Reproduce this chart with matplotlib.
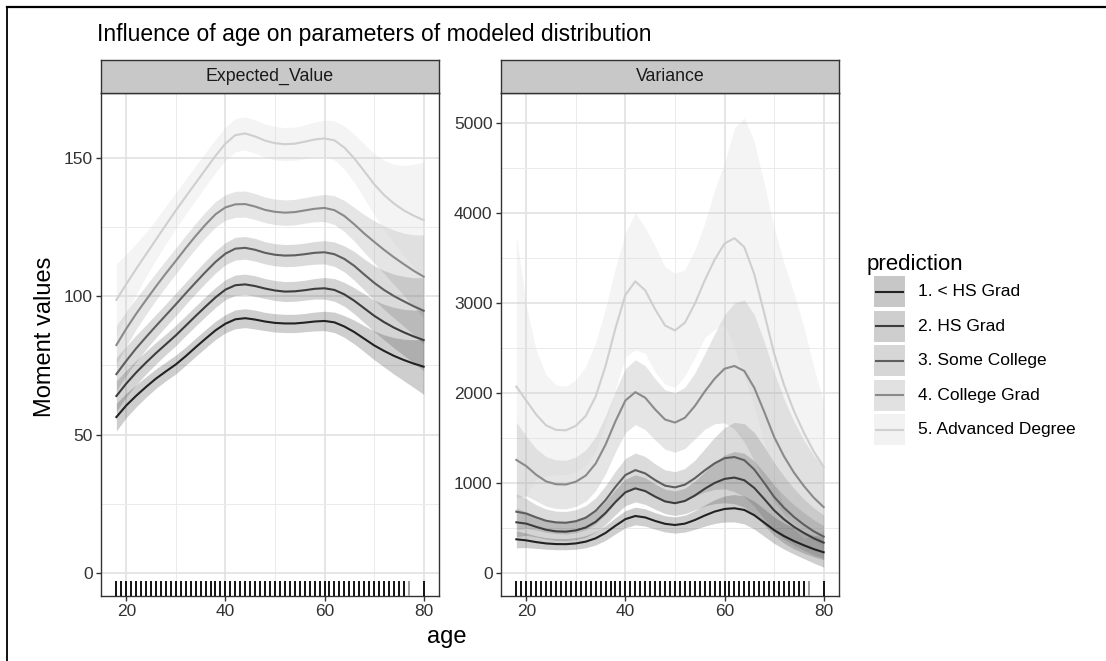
import numpy as np
import matplotlib
matplotlib.use("Agg")
from matplotlib import pyplot as plt
from matplotlib.patches import Rectangle
from matplotlib.lines import Line2D

plt.rcParams['font.family'] = ['Liberation Sans', 'DejaVu Sans']

W, H = 1106, 661

# ---- data ----
ages = [18, 20, 22, 24, 26, 28, 30, 32, 34, 36, 38, 40, 42, 44, 46, 48,
        50, 52, 54, 56, 58, 60, 62, 64, 66, 68, 70, 72, 74, 76, 78, 80]
groups = ["1. < HS Grad", "2. HS Grad", "3. Some College", "4. College Grad", "5. Advanced Degree"]

# Expected_Value panel: fitted curves
ev_hs_less = [56.3, 60.5, 64.0, 67.2, 70.2, 72.8, 75.3, 78.3, 81.5, 84.6, 87.6, 90.0, 91.6, 92.0, 91.5, 90.8,
              90.3, 90.1, 90.1, 90.4, 90.8, 91.0, 90.5, 89.0, 87.0, 84.6, 82.2, 80.2, 78.4, 76.9, 75.6, 74.5]
ev_hs = [63.9, 68.4, 72.4, 76.0, 79.4, 82.6, 85.8, 89.3, 92.8, 96.2, 99.5, 102.3, 103.9, 104.2, 103.6, 102.7,
         102.0, 101.6, 101.7, 102.1, 102.6, 102.8, 102.2, 100.6, 98.3, 95.6, 92.9, 90.6, 88.6, 86.9, 85.4, 84.1]
ev_some = [71.8, 76.6, 81.1, 85.2, 89.2, 93.1, 97.0, 101.0, 104.9, 108.7, 112.3, 115.3, 117.1, 117.4, 116.7, 115.6,
           114.9, 114.6, 114.7, 115.1, 115.6, 115.8, 115.1, 113.4, 110.9, 107.8, 104.8, 102.2, 100.0, 98.1, 96.3, 94.7]
ev_college = [82.3, 88.2, 93.6, 98.6, 103.5, 108.2, 112.7, 117.3, 121.7, 125.8, 129.5, 132.0, 133.1, 133.2, 132.3, 131.1,
              130.4, 130.1, 130.3, 130.9, 131.5, 131.8, 131.0, 128.9, 125.9, 122.6, 119.6, 116.7, 114.0, 111.5, 109.1, 107.0]
ev_adv = [98.6, 104.3, 109.8, 115.1, 120.4, 125.7, 130.9, 135.9, 140.8, 145.7, 150.6, 155.0, 158.1, 158.7, 157.6, 156.1,
          155.2, 154.8, 155.0, 155.7, 156.5, 156.9, 156.2, 153.6, 149.7, 145.1, 140.4, 136.5, 133.4, 130.9, 129.0, 127.4]

# Expected_Value panel: ribbon half widths
ev_se_hs_less = [5.0, 4.4, 4.0, 3.7, 3.5, 3.4, 3.4, 3.3, 3.3, 3.3, 3.3, 3.3, 3.4, 3.4, 3.4, 3.3,
                 3.3, 3.3, 3.3, 3.3, 3.4, 3.5, 3.7, 3.9, 4.3, 4.7, 5.2, 5.8, 6.6, 7.5, 8.6, 10.0]
ev_se_hs = [5.5, 4.8, 4.4, 4.1, 3.9, 3.7, 3.7, 3.6, 3.6, 3.6, 3.6, 3.6, 3.7, 3.7, 3.7, 3.6,
            3.6, 3.6, 3.6, 3.6, 3.7, 3.9, 4.1, 4.3, 4.7, 5.2, 5.7, 6.4, 7.3, 8.3, 9.5, 11.0]
ev_se_some = [6.0, 5.3, 4.8, 4.4, 4.2, 4.1, 4.1, 4.0, 4.0, 4.0, 4.0, 4.0, 4.1, 4.1, 4.1, 4.0,
              4.0, 4.0, 4.0, 4.0, 4.1, 4.2, 4.4, 4.7, 5.2, 5.6, 6.2, 7.0, 7.9, 9.0, 10.3, 12.0]
ev_se_college = [7.0, 6.2, 5.6, 5.2, 4.9, 4.8, 4.7, 4.6, 4.6, 4.6, 4.6, 4.6, 4.7, 4.7, 4.7, 4.6,
                 4.6, 4.6, 4.6, 4.6, 4.7, 4.9, 5.2, 5.6, 6.1, 6.8, 7.6, 8.6, 9.8, 11.2, 13.0, 15.0]
ev_se_adv = [13.0, 10.8, 9.2, 8.0, 7.2, 6.8, 6.5, 6.3, 6.2, 6.1, 6.0, 6.0, 6.0, 6.0, 6.0, 6.0,
             6.0, 6.0, 6.0, 6.1, 6.3, 6.6, 7.1, 7.8, 8.7, 9.8, 11.0, 12.5, 14.2, 16.2, 18.5, 21.0]

# Variance panel: fitted curves
var_hs_less = [374, 362, 343, 328, 321, 320, 328, 348, 385, 445, 525, 598, 633, 617, 578, 546,
               533, 548, 588, 638, 682, 711, 719, 700, 642, 560, 476, 410, 355, 308, 265, 230]
var_hs = [563, 548, 512, 480, 462, 459, 473, 505, 568, 667, 789, 896, 940, 910, 848, 795,
          775, 800, 860, 935, 1000, 1045, 1060, 1030, 945, 823, 696, 596, 513, 445, 385, 337]
var_some = [681, 660, 618, 580, 562, 558, 575, 614, 690, 810, 957, 1088, 1143, 1106, 1032, 970,
            951, 981, 1052, 1140, 1218, 1275, 1288, 1253, 1150, 1002, 846, 725, 623, 537, 463, 404]
var_college = [1256, 1187, 1091, 1017, 986, 983, 1014, 1082, 1215, 1426, 1686, 1916, 2009, 1947, 1817, 1705,
               1671, 1724, 1854, 2015, 2158, 2269, 2300, 2244, 2058, 1792, 1513, 1296, 1116, 967, 837, 732]
var_adv = [2070, 1915, 1760, 1640, 1590, 1585, 1635, 1745, 1960, 2300, 2720, 3090, 3240, 3140, 2930, 2750,
           2695, 2780, 2990, 3250, 3480, 3660, 3720, 3620, 3320, 2890, 2440, 2090, 1800, 1560, 1350, 1180]

# Variance panel: ribbon half widths
var_se_hs_less = [95, 80, 70, 64, 62, 62, 64, 68, 74, 82, 90, 96, 98, 96, 92, 90,
                  90, 94, 104, 118, 132, 145, 152, 155, 155, 152, 148, 145, 145, 148, 155, 165]
var_se_hs = [160, 130, 112, 104, 100, 100, 102, 108, 115, 128, 140, 148, 150, 148, 140, 136,
             136, 142, 160, 190, 230, 265, 290, 300, 300, 292, 280, 265, 245, 225, 205, 190]
var_se_some = [200, 165, 140, 130, 125, 125, 128, 135, 145, 160, 175, 185, 190, 188, 180, 175,
               175, 180, 200, 240, 290, 340, 385, 405, 410, 400, 380, 350, 315, 285, 260, 240]
var_se_college = [420, 330, 290, 275, 270, 270, 275, 285, 300, 320, 340, 355, 360, 355, 340, 330,
                  330, 340, 365, 420, 500, 600, 700, 790, 810, 780, 720, 640, 570, 510, 470, 450]
var_se_adv = [1680, 1050, 720, 560, 500, 490, 510, 550, 600, 640, 670, 690, 760, 700, 700, 650,
              635, 590, 600, 635, 775, 895, 1224, 1435, 1473, 1440, 1400, 1354, 1311, 1177, 942, 708]

rug_ages = list(range(18, 77)) + [80]
rug_faint = [77]

line_colors = ['#222222', '#3d3d3d', '#5e5e5e', '#8a8a8a', '#cfcfcf']
ribbon_alpha = 0.22


def fx(px):
    return px / W


def fy(py):
    return 1 - py / H


def style_panel(ax, xlim, ylim, yticks, yminor):
    ax.set_xlim(*xlim)
    ax.set_ylim(*ylim)
    ax.set_xticks([20, 40, 60, 80])
    ax.set_xticks([30, 50, 70], minor=True)
    ax.set_yticks(yticks)
    ax.set_yticks(yminor, minor=True)
    ax.grid(which='major', color='#e2e2e2', lw=1.2, zorder=0)
    ax.grid(which='minor', color='#ebebeb', lw=0.7, zorder=0)
    ax.set_axisbelow(True)
    for s in ax.spines.values():
        s.set_color('#333333')
        s.set_linewidth(1.0)
    ax.tick_params(which='major', length=3.6, width=1.0, color='#333333',
                   labelsize=12.5, labelcolor='#333333', pad=2.5)
    ax.tick_params(which='minor', length=0)


def add_strip(ax_pos, label):
    l, b, w, h = ax_pos
    sax = fig.add_axes([l, fy(93), w, fy(60) - fy(93)])
    sax.set_facecolor('#c8c8c8')
    sax.set_xticks([])
    sax.set_yticks([])
    for s in sax.spines.values():
        s.set_color('#333333')
        s.set_linewidth(1.0)
    sax.text(0.5, 0.5, label, ha='center', va='center', fontsize=12.8, color='#1a1a1a',
             transform=sax.transAxes)


def draw_panel(ax, fits, ses):
    for fit, se, col in zip(fits, ses, line_colors):
        fit = np.array(fit, dtype=float)
        se = np.array(se, dtype=float)
        ax.fill_between(ages, fit - se, fit + se, color=col, alpha=ribbon_alpha, lw=0, zorder=2)
    for fit, col in zip(fits, line_colors):
        ax.plot(ages, fit, color=col, lw=1.5, zorder=3, solid_joinstyle='round')
    ax.vlines(rug_ages, 0, 0.03, transform=ax.get_xaxis_transform(), color='black', lw=1.3, zorder=4)
    ax.vlines(rug_faint, 0, 0.03, transform=ax.get_xaxis_transform(), color='#999999', lw=1.3, zorder=4)


fig = plt.figure(figsize=(W / 100, H / 100), dpi=100)
fig.patch.set_facecolor('white')

pos_left = [fx(101), fy(596), fx(439) - fx(101), fy(93) - fy(596)]
pos_right = [fx(501), fy(596), fx(839) - fx(501), fy(93) - fy(596)]

ax1 = fig.add_axes(pos_left)
ax2 = fig.add_axes(pos_right)

draw_panel(ax1, [ev_hs_less, ev_hs, ev_some, ev_college, ev_adv],
           [ev_se_hs_less, ev_se_hs, ev_se_some, ev_se_college, ev_se_adv])
draw_panel(ax2, [var_hs_less, var_hs, var_some, var_college, var_adv],
           [var_se_hs_less, var_se_hs, var_se_some, var_se_college, var_se_adv])

style_panel(ax1, (14.9, 83.1), (-8.3, 173.3), [0, 50, 100, 150], [25, 75, 125])
style_panel(ax2, (14.9, 83.1), (-256, 5333), [0, 1000, 2000, 3000, 4000, 5000],
            [500, 1500, 2500, 3500, 4500])

add_strip(pos_left, 'Expected_Value')
add_strip(pos_right, 'Variance')

fig.text(fx(97), fy(41), 'Influence of age on parameters of modeled distribution',
         fontsize=16.5, color='black', ha='left', va='baseline')
fig.text(fx(45), fy(337), 'Moment values', rotation=90, fontsize=17, ha='center', va='center')
fig.text(fx(447), fy(637), 'age', fontsize=17, ha='center', va='center')

# legend
fig.text(fx(867), fy(265), 'prediction', fontsize=16, ha='left', va='center')
for i, (lab, col) in enumerate(zip(groups, line_colors)):
    top = 276 + i * 34.6
    fig.add_artist(Rectangle((fx(874), fy(top + 31)), fx(905) - fx(874), fy(top) - fy(top + 31),
                             transform=fig.transFigure, facecolor=col, alpha=0.25, lw=0))
    fig.add_artist(Line2D([fx(876), fx(903)], [fy(top + 15.5)] * 2, color=col, lw=1.5,
                          transform=fig.transFigure))
    fig.text(fx(918), fy(top + 15.5), lab, fontsize=12.5, ha='left', va='center', color='black')

# outer frame (cropped screenshot)
fig.add_artist(Line2D([fx(7), 1], [fy(7), fy(7)], color='black', lw=1.6, transform=fig.transFigure))
fig.add_artist(Line2D([fx(7), fx(7)], [fy(7), 0], color='black', lw=1.3, transform=fig.transFigure))

fig.savefig('out.png', dpi=100)
